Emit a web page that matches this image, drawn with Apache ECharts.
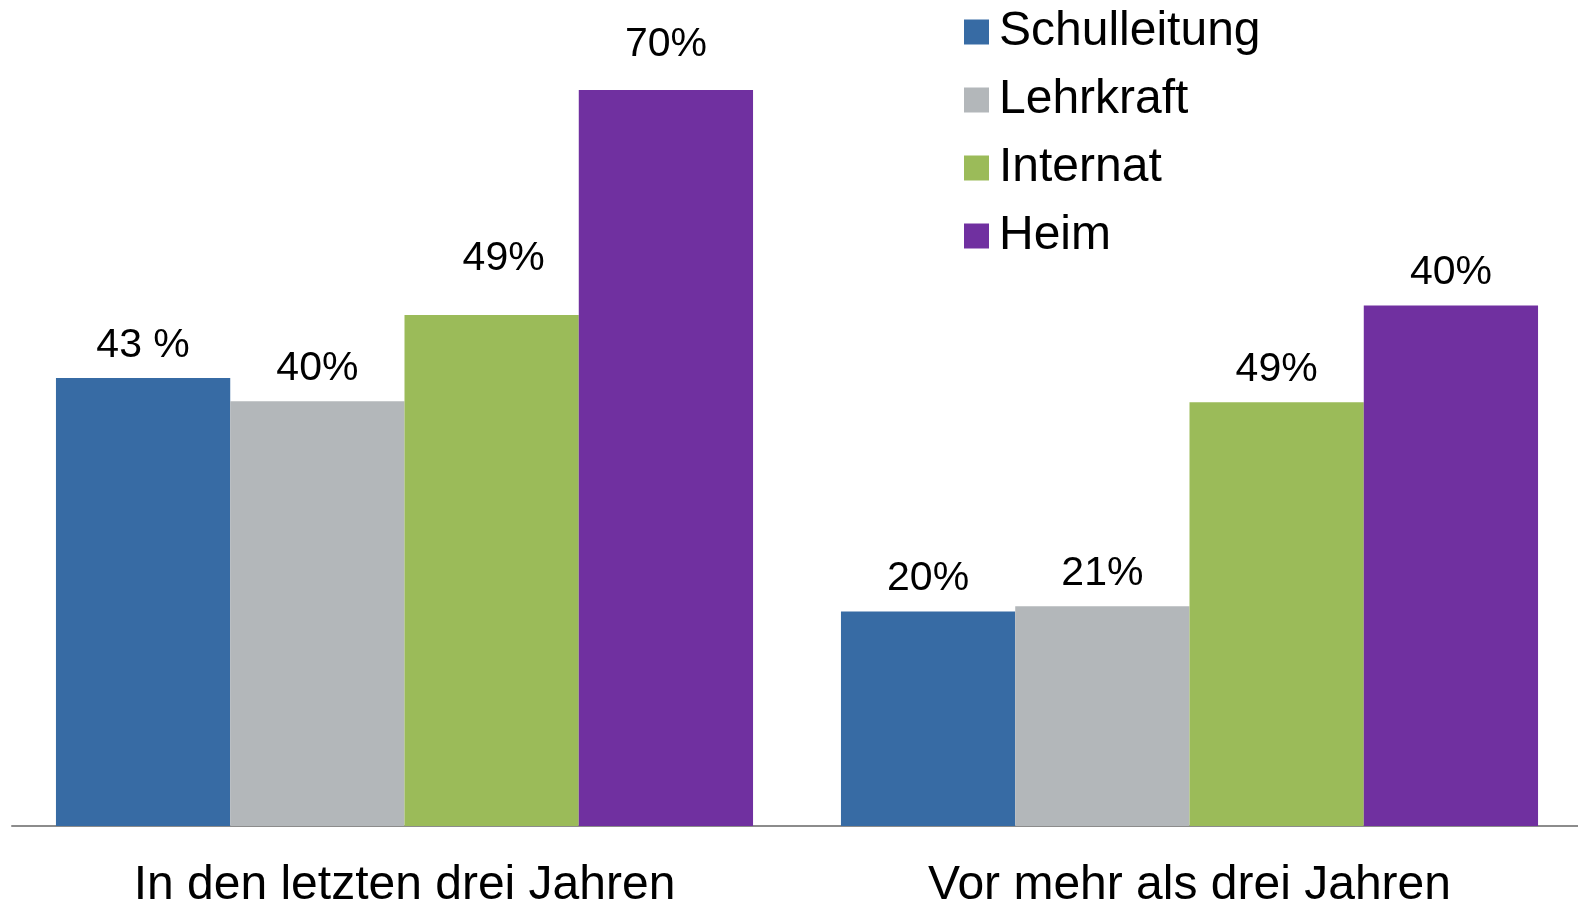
<!DOCTYPE html>
<html><head><meta charset="utf-8">
<script src="https://cdn.jsdelivr.net/npm/echarts@6/dist/echarts.min.js"></script>
<style>html,body{margin:0;padding:0;background:#fff}#c{width:1578px;height:905px}</style>
</head><body><div id="c"></div>
<script>
const categories = ["In den letzten drei Jahren", "Vor mehr als drei Jahren"];
const seriesNames = ["Schulleitung", "Lehrkraft", "Internat", "Heim"];
const colors = ["#376ba4", "#b3b7ba", "#9bbb59", "#7030a0"];
// bar heights as drawn in the picture
const schulleitung = [42.6, 20.4];
const lehrkraft = [40.4, 20.9];
const internat = [48.6, 40.3];
const heim = [70, 49.5];
// label texts as printed in the picture
const schulleitungLabels = ["43 %", "20%"];
const lehrkraftLabels = ["40%", "21%"];
const internatLabels = ["49%", "49%"];
const heimLabels = ["70%", "40%"];

const values = [schulleitung, lehrkraft, internat, heim];
const labels = [schulleitungLabels, lehrkraftLabels, internatLabels, heimLabels];
const font = "'Liberation Sans', Arial, sans-serif";

// per-label placement tweaks (series index -> data index -> label style)
const labelTweaks = {
  2: {0: {distance: 36, offset: [12, 0]}},
  3: {0: {distance: 25}}
};

const chart = echarts.init(document.getElementById('c'), null, {renderer: 'canvas'});
chart.setOption({
  animation: false,
  backgroundColor: '#fff',
  grid: {left: 12, right: -4, top: 90, bottom: 79, containLabel: false, outerBoundsMode: 'none'},
  legend: {
    orient: 'vertical', left: 964, top: 8, padding: 0,
    itemWidth: 25, itemHeight: 25, itemGap: 20,
    icon: 'rect',
    data: seriesNames,
    textStyle: {fontFamily: font, fontSize: 48, lineHeight: 48, color: '#000', padding: [0, 0, 0, 5]}
  },
  xAxis: {
    type: 'category', data: categories,
    axisTick: {show: false},
    axisLine: {lineStyle: {color: '#8c8c8c', width: 2}},
    axisLabel: {fontFamily: font, fontSize: 48, color: '#000', margin: 36}
  },
  yAxis: {type: 'value', min: 0, max: 70, show: false, splitLine: {show: false}},
  series: seriesNames.map((n, i) => ({
    name: n, type: 'bar',
    data: values[i].map((v, j) => {
      const t = labelTweaks[i] && labelTweaks[i][j];
      return t ? {value: v, label: t} : v;
    }),
    barGap: '0%', barCategoryGap: '11.2%',
    itemStyle: {color: colors[i]},
    label: {
      show: true, position: 'top', distance: 12,
      fontFamily: font, fontSize: 41, color: '#000',
      formatter: p => labels[i][p.dataIndex]
    }
  }))
});
</script></body></html>
